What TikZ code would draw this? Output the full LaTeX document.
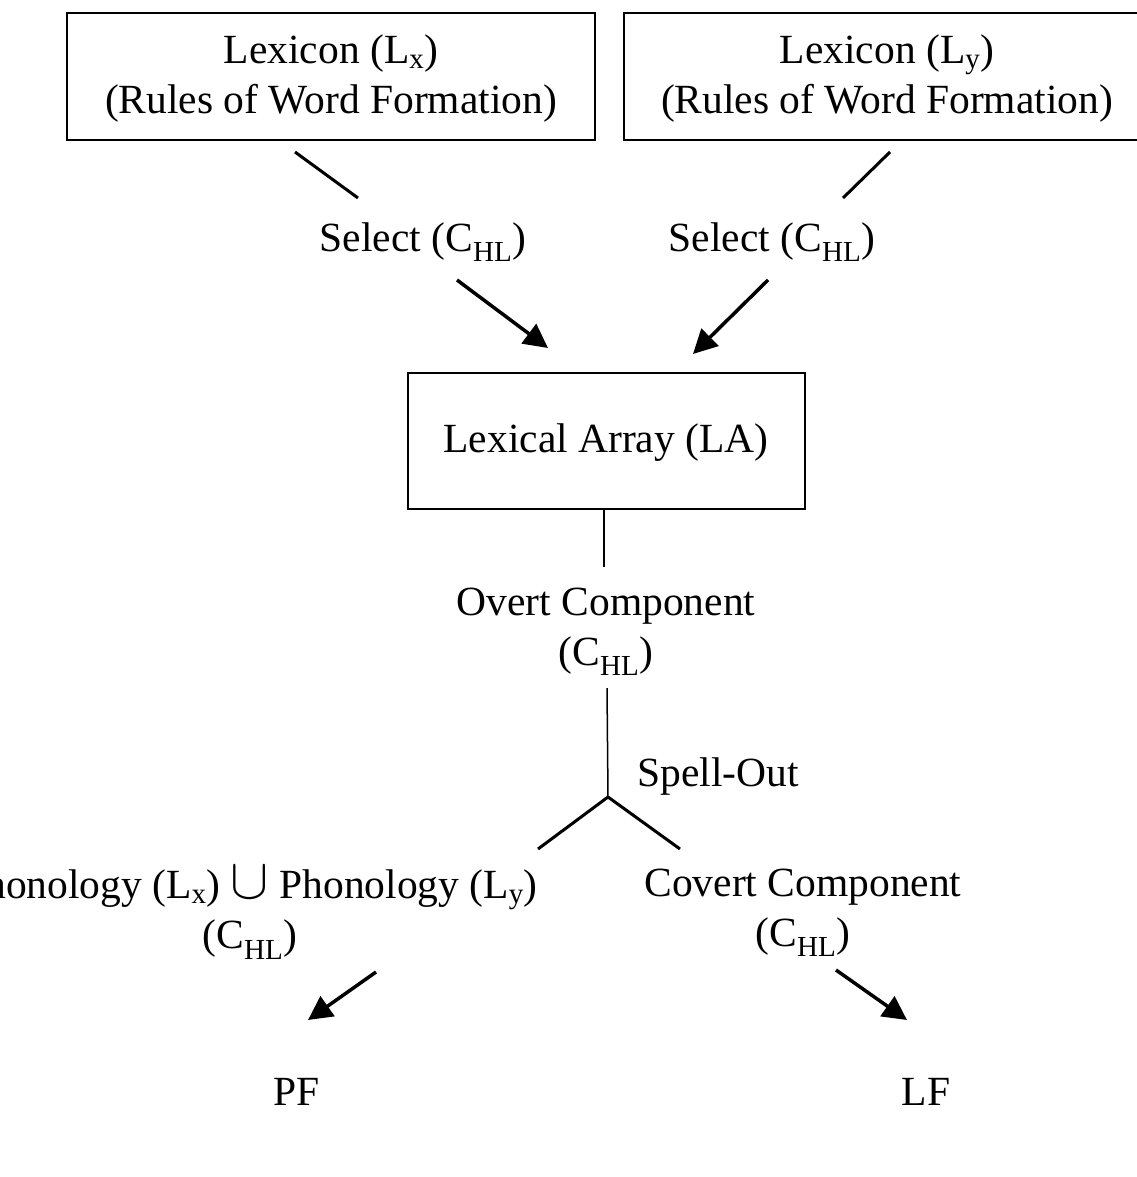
\documentclass[tikz,border=0pt]{standalone}
\usepackage{fontspec}
\usepackage{graphicx}
\setmainfont{Liberation Serif}
\usetikzlibrary{arrows.meta}
\newcommand{\hl}{C\textsubscript{HL}}
\begin{document}
\begin{tikzpicture}[x=1pt,y=-1pt,
  lab/.style={font=\fontsize{41.5}{48}\selectfont,align=center,inner sep=0pt},
  ln/.style={line width=3pt},
  ar/.style={line width=3.5pt,-{Triangle[length=24pt,width=24pt]}}]
\useasboundingbox (0,0) rectangle (1136,1177);
\draw[line width=2.5pt] (67,13) rectangle (595,140);
\node[lab] (lx) at (331,79) {Lexicon (L\textsubscript{x})\\[2pt](Rules of Word Formation)};
\draw[line width=2.5pt] (624,13) rectangle (1140,140);
\node[lab] (ly) at (887,79) {Lexicon (L\textsubscript{y})\\[2pt](Rules of Word Formation)};
\draw[line width=2.5pt] (408,373) rectangle (805,509);
\node[lab] (la) at (606,443) {Lexical Array (LA)};
\node[lab] (s1) at (423,242) {Select (\hl)};
\node[lab] (s2) at (772,242) {Select (\hl)};
\node[lab] (ov) at (606,632) {Overt Component\\[2pt](\hl)};
\node[lab] (so) at (718,777) {Spell-Out};
\node[lab] (ph) at (250,913) {Phonology (L\textsubscript{x}) \scalebox{2.3}{$\cup$} Phonology (L\textsubscript{y})\\[2pt](\hl)};
\node[lab] (cv) at (803,913) {Covert Component\\[2pt](\hl)};
\node[lab] (pf) at (297,1092) {PF};
\node[lab] (lf) at (926,1092) {LF};
\coordinate (a1) at (295,152); \coordinate (a2) at (358,198);
\coordinate (a3) at (457,280); \coordinate (a4) at (548,348);
\coordinate (b1) at (890,152); \coordinate (b2) at (843,198);
\coordinate (b3) at (768,280); \coordinate (b4) at (693,354);
\coordinate (c1) at (604,510); \coordinate (c2) at (604,567);
\coordinate (c3) at (607,688); \coordinate (sp) at (608,797);
\coordinate (d1) at (538,849); \coordinate (d2) at (680,849);
\coordinate (e1) at (376,972); \coordinate (e2) at (308,1020);
\coordinate (f1) at (836,970); \coordinate (f2) at (907,1020);
\draw[ln] (a1) -- (a2); \draw[ar] (a3) -- (a4);
\draw[ln] (b1) -- (b2); \draw[ar] (b3) -- (b4);
\draw[line width=1.5pt] (c1) -- (c2); \draw[line width=1.5pt] (c3) -- (sp);
\draw[ln] (sp) -- (d1); \draw[ln] (sp) -- (d2);
\draw[ar] (e1) -- (e2); \draw[ar] (f1) -- (f2);
\end{tikzpicture}
\end{document}
